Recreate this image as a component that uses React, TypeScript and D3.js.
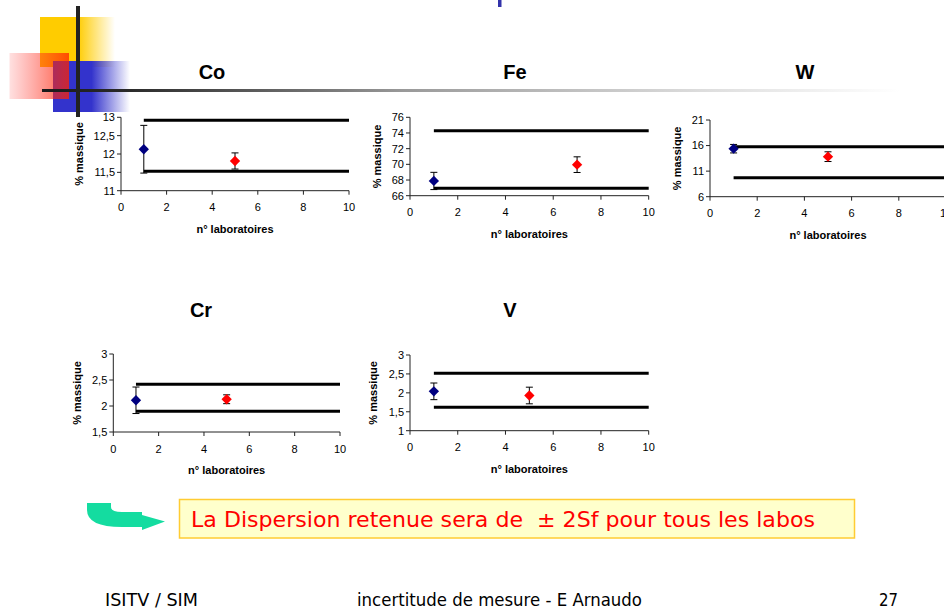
import React from "react";
import * as d3 from "d3";

// Interlaboratory results per element: reference lab (blue) vs tested lab (red)
const elements = ["Co", "Fe", "W", "Cr", "V"];
const refLab = [1, 1, 1, 1, 1];
const testLab = [5, 7, 5, 5, 5];
const refValues = [12.13, 67.88, 15.39, 2.11, 2.04];
const refErrors = [0.65, 1.1, 0.83, 0.255, 0.22];
const testValues = [11.81, 69.96, 13.83, 2.13, 1.93];
const testErrors = [0.22, 1.0, 0.95, 0.085, 0.22];
const upperLimits = [12.92, 74.3, 15.78, 2.42, 2.52];
const lowerLimits = [11.53, 66.94, 9.72, 1.9, 1.62];
const limitFrom = 1;
const limitTo = 10;
const yDomains: [number, number][] = [
  [11, 13],
  [66, 76],
  [6, 21],
  [1.5, 3],
  [1, 3],
];
const yTicks = [
  [11, 11.5, 12, 12.5, 13],
  [66, 68, 70, 72, 74, 76],
  [6, 11, 16, 21],
  [1.5, 2, 2.5, 3],
  [1, 1.5, 2, 2.5, 3],
];
const xDomain: [number, number] = [0, 10];
const xTicks = [0, 2, 4, 6, 8, 10];
const yAxisTitle = "% massique";
const xAxisTitle = "n° laboratoires";
const noteText = "La Dispersion retenue sera de  ± 2Sf pour tous les labos";
const footerLeft = "ISITV / SIM";
const footerCenter = "incertitude de mesure - E Arnaudo";
const footerRight = "27";

// Plot frames for the five panels
const frames = [
  { left: 121, right: 349, top: 117.3, bottom: 190.7, titleX: 212, titleY: 79, yLabelX: 79 },
  { left: 410, right: 648.7, top: 117.3, bottom: 195.7, titleX: 515, titleY: 79, yLabelX: 377 },
  { left: 710, right: 946, top: 120, bottom: 196.7, titleX: 805, titleY: 79, yLabelX: 677 },
  { left: 113.3, right: 340, top: 354, bottom: 432, titleX: 201, titleY: 317, yLabelX: 77 },
  { left: 410, right: 648.7, top: 355, bottom: 430.7, titleX: 510, titleY: 317, yLabelX: 373 },
];

const FONT = "'Liberation Sans', Arial, sans-serif";
const NARROW = "'Liberation Sans Narrow', 'DejaVu Sans Condensed', sans-serif";
const fmt = (v: number) => String(v).replace(".", ",");
const diamond = d3.symbol(d3.symbolDiamond2, 68)() as string;

function ErrorPoint({ cx, cy, top, bottom, color }: { cx: number; cy: number; top: number; bottom: number; color: string }) {
  return (
    <g>
      <line x1={cx} x2={cx} y1={top} y2={bottom} stroke="#000" strokeWidth={1} />
      <line x1={cx - 3.5} x2={cx + 3.5} y1={top} y2={top} stroke="#000" strokeWidth={1} />
      <line x1={cx - 3.5} x2={cx + 3.5} y1={bottom} y2={bottom} stroke="#000" strokeWidth={1} />
      <path d={diamond} transform={`translate(${cx},${cy})`} fill={color} />
    </g>
  );
}

function Panel({ i }: { i: number }) {
  const f = frames[i];
  const x = d3.scaleLinear().domain(xDomain).range([f.left, f.right]);
  const y = d3.scaleLinear().domain(yDomains[i]).range([f.bottom, f.top]);
  const limitLine = d3
    .line<[number, number]>()
    .x((d) => x(d[0]))
    .y((d) => y(d[1]));
  const midY = (f.top + f.bottom) / 2;
  const midX = (f.left + f.right) / 2;
  return (
    <g>
      <text x={f.titleX} y={f.titleY} textAnchor="middle" fontFamily={FONT} fontWeight="bold" fontSize={20} fill="#000">
        {elements[i]}
      </text>
      {/* axes */}
      <line x1={f.left} x2={f.left} y1={f.top} y2={f.bottom} stroke="#222" strokeWidth={1} />
      <line x1={f.left} x2={f.right} y1={f.bottom} y2={f.bottom} stroke="#222" strokeWidth={1} />
      {yTicks[i].map((t) => (
        <g key={"y" + t}>
          <line x1={f.left - 4} x2={f.left} y1={y(t)} y2={y(t)} stroke="#222" strokeWidth={1} />
          <text x={f.left - 6} y={y(t)} dy="0.35em" textAnchor="end" fontFamily={FONT} fontSize={11} fill="#000">
            {fmt(t)}
          </text>
        </g>
      ))}
      {xTicks.map((t) => (
        <g key={"x" + t}>
          <line x1={x(t)} x2={x(t)} y1={f.bottom} y2={f.bottom + 4} stroke="#222" strokeWidth={1} />
          <text x={x(t)} y={f.bottom + 20.5} textAnchor="middle" fontFamily={FONT} fontSize={11} fill="#000">
            {fmt(t)}
          </text>
        </g>
      ))}
      <text
        transform={`translate(${f.yLabelX},${midY}) rotate(-90)`}
        dy="0.35em"
        textAnchor="middle"
        fontFamily={FONT}
        fontWeight="bold"
        fontSize={11}
        fill="#000"
      >
        {yAxisTitle}
      </text>
      <text x={midX} y={f.bottom + 42} textAnchor="middle" fontFamily={FONT} fontWeight="bold" fontSize={11} fill="#000">
        {xAxisTitle}
      </text>
      {/* tolerance limits */}
      {[upperLimits[i], lowerLimits[i]].map((v, k) => (
        <path
          key={"lim" + k}
          d={limitLine([
            [limitFrom, v],
            [limitTo, v],
          ]) as string}
          stroke="#000"
          strokeWidth={3}
          fill="none"
        />
      ))}
      <ErrorPoint
        cx={x(refLab[i])}
        cy={y(refValues[i])}
        top={y(refValues[i] + refErrors[i])}
        bottom={y(refValues[i] - refErrors[i])}
        color="#000080"
      />
      <ErrorPoint
        cx={x(testLab[i])}
        cy={y(testValues[i])}
        top={y(testValues[i] + testErrors[i])}
        bottom={y(testValues[i] - testErrors[i])}
        color="#ff0000"
      />
    </g>
  );
}

export default function App() {
  return (
    <svg
      width={944}
      height={613}
      viewBox="0 0 944 613"
      style={{ position: "fixed", left: 0, top: 0, background: "#fff" }}
    >
      <defs>
        <linearGradient id="gYellow" x1="0" x2="1" y1="0" y2="0">
          <stop offset="0" stopColor="#ffcc00" />
          <stop offset="0.5" stopColor="#ffcc00" />
          <stop offset="1" stopColor="#ffcc00" stopOpacity="0" />
        </linearGradient>
        <linearGradient id="gBlue" x1="0" x2="1" y1="0" y2="0">
          <stop offset="0" stopColor="#3333cc" />
          <stop offset="0.5" stopColor="#3333cc" />
          <stop offset="1" stopColor="#3333cc" stopOpacity="0" />
        </linearGradient>
        <linearGradient id="gRed" x1="0" x2="1" y1="0" y2="0">
          <stop offset="0" stopColor="#ff3333" stopOpacity="0.15" />
          <stop offset="1" stopColor="#ff2200" stopOpacity="0.75" />
        </linearGradient>
        <linearGradient id="gRule" x1="0" x2="1" y1="0" y2="0">
          <stop offset="0" stopColor="#1a1a1a" />
          <stop offset="0.1" stopColor="#2a2a2a" />
          <stop offset="0.33" stopColor="#777" />
          <stop offset="0.42" stopColor="#999" />
          <stop offset="0.77" stopColor="#ddd" />
          <stop offset="1" stopColor="#fff" />
        </linearGradient>
      </defs>
      <rect x={0} y={0} width={944} height={613} fill="#fff" />

      {/* slide decoration */}
      <rect x={498} y={0} width={3.5} height={7} fill="#3333aa" />
      <rect x={40} y={17} width={75} height={50} fill="url(#gYellow)" />
      <rect x={53} y={61} width={77} height={51} fill="url(#gBlue)" />
      <rect x={9.5} y={53} width={59.5} height={46} fill="url(#gRed)" />
      <rect x={42} y={89} width={858} height={3} fill="url(#gRule)" />
      <rect x={76} y={6} width={4} height={111} fill="#222" />

      {elements.map((_, i) => (
        <Panel key={elements[i]} i={i} />
      ))}

      {/* conclusion note */}
      <path
        d="M87,503 L111,503 L111,507 Q111,512 122,512 L142,512 L142,515 L165,521.5 L142,530 L142,527 L122,527 Q87,527 87,510 Z"
        fill="#14dca0"
      />
      <rect x={179.5} y={499.5} width={675} height={38.5} fill="#ffffcc" stroke="#ffcc33" strokeWidth={1.5} />
      <text
        x={191}
        y={527}
        fontFamily="'Comic Sans MS', 'DejaVu Sans', sans-serif"
        fontSize={22}
        fill="#ff0000"
        textLength={624}
        lengthAdjust="spacingAndGlyphs"
        style={{ whiteSpace: "pre" }}
      >
        {noteText}
      </text>

      {/* footer */}
      <text x={105} y={606} fontFamily={NARROW} fontSize={17} fill="#000" textLength={93} lengthAdjust="spacingAndGlyphs">
        {footerLeft}
      </text>
      <text x={357} y={606} fontFamily={NARROW} fontSize={17} fill="#000" textLength={285} lengthAdjust="spacingAndGlyphs">
        {footerCenter}
      </text>
      <text x={879} y={606} fontFamily={NARROW} fontSize={17} fill="#000" textLength={19} lengthAdjust="spacingAndGlyphs">
        {footerRight}
      </text>
    </svg>
  );
}
